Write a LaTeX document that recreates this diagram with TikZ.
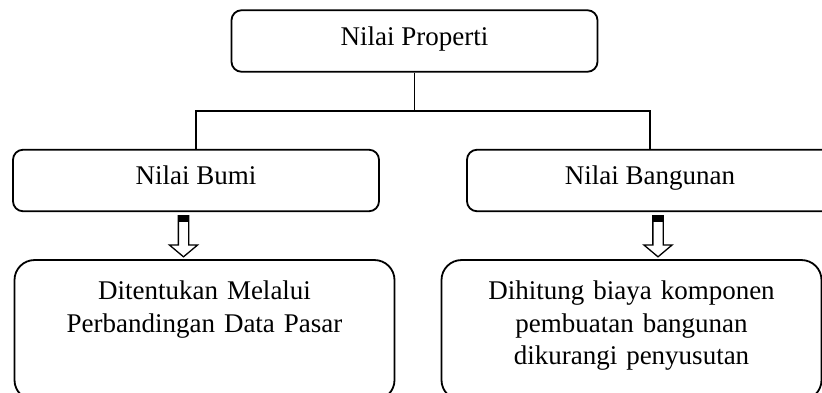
\documentclass[tikz,border=0pt]{standalone}
\usepackage{fontspec}
\setmainfont{Liberation Serif}
\usetikzlibrary{shapes.arrows}
\tikzstyle{valbox} = [draw, line width=1.8pt, minimum width=366pt,
    minimum height=61.5pt, rounded corners=10pt, text height=18pt,
    text depth=9pt, font=\fontsize{27}{32.5}\selectfont]
\tikzstyle{descbox} = [draw, line width=1.8pt, text width=356pt, align=center,
    inner xsep=12pt, inner ysep=15.5pt, text height=24pt, text depth=85pt,
    rounded corners=20pt, font=\fontsize{27}{32.5}\selectfont]
\tikzstyle{blockarrow} = [single arrow, draw, fill=white, line width=1.3pt,
    rotate=-90, minimum height=41pt, inner sep=4.5pt,
    single arrow head extend=9pt, single arrow tip angle=100]
\def\branchdrop{38}

\begin{document}
\begin{tikzpicture}[x=1pt, y=1pt]
    \useasboundingbox (0,0) rectangle (822,-393);
    \clip (0,0) rectangle (822,-393);

    \node (prop) [valbox] at (414.5,-41) {Nilai Properti};
    \path (prop.center)+(-218.5,-139.5) node (bumi) [valbox] {Nilai Bumi};
    \path (prop.center)+(235.5,-139.5) node (bangunan) [valbox] {Nilai Bangunan};

    \draw [line width=1.8pt] (prop.south) -- ++(0,-\branchdrop) -| (bumi.north);
    \draw [line width=1.8pt] (prop.south) -- ++(0,-\branchdrop) -| (bangunan.north);

    \path (bumi.south)+(8.5,-47) node (pasar) [descbox, anchor=north]
        {Ditentukan Melalui\\Perbandingan Data Pasar};
    \path (bangunan.south)+(-18.5,-47) node (susut) [descbox, anchor=north]
        {Dihitung biaya komponen\\pembuatan bangunan\\dikurangi penyusutan};

    % hollow arrows between the value boxes and their descriptions
    \path (bumi.south)+(-12.5,-22) node (arrbumi) [blockarrow] {};
    \path (bangunan.south)+(8,-22) node (arrbangunan) [blockarrow] {};
    \fill ([xshift=-5.5pt]arrbumi.tail) rectangle ([xshift=5.5pt,yshift=-7pt]arrbumi.tail);
    \fill ([xshift=-5.5pt]arrbangunan.tail) rectangle ([xshift=5.5pt,yshift=-7pt]arrbangunan.tail);
\end{tikzpicture}
\end{document}
